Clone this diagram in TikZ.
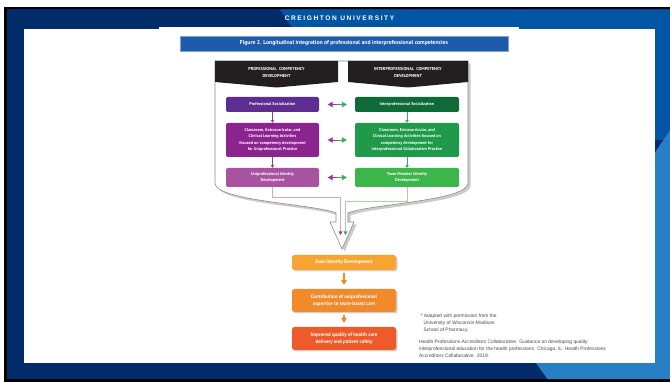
\documentclass[tikz,border=0pt]{standalone}
\usepackage{fontspec}
\setmainfont{Liberation Sans}
\newfontfamily\figfont{PT Sans}
\newfontfamily\unifont[LetterSpace=24]{Liberation Sans}
\usetikzlibrary{arrows.meta,calc,shadows}
\definecolor{navy}{HTML}{022B69}
\definecolor{blueA}{HTML}{0155A4}
\definecolor{lblue}{HTML}{2780C6}
\definecolor{titleblue}{HTML}{1E5BAA}
\definecolor{titleborder}{HTML}{7FA2D6}
\definecolor{hdrblack}{HTML}{231F20}
\definecolor{pA}{HTML}{5E2D91}
\definecolor{pB}{HTML}{8C2490}
\definecolor{pC}{HTML}{A8539F}
\definecolor{gA}{HTML}{0E6B38}
\definecolor{gB}{HTML}{1F9A4A}
\definecolor{gC}{HTML}{3CB54A}
\definecolor{oA}{HTML}{F6A532}
\definecolor{oB}{HTML}{F08A2A}
\definecolor{oC}{HTML}{EE5B2B}
\definecolor{parrow}{HTML}{9B3D98}
\definecolor{garrow}{HTML}{3AAA5A}
\definecolor{pinkline}{HTML}{D8A4D2}
\definecolor{greenline}{HTML}{A2D8A2}
\definecolor{reftext}{HTML}{4A4A4A}
\newcommand\funnelshape[1]{\path[#1] (215,61) -- (215,183) .. controls (215,201) and (315,204) .. (336,213) -- (336,222) -- (330,222) -- (342,249) -- (354,222) -- (348,222) -- (348,213) .. controls (369,204) and (468,201) .. (468,183) -- (468,61) -- cycle;}
\tikzset{
  colbox/.style={rounded corners=2pt, text=white, align=center, inner sep=0pt,
    font=\figfont\bfseries\fontsize{4.2}{6.2}\selectfont},
  lbox/.style={colbox, minimum width=93pt},
  rbox/.style={colbox, minimum width=104pt},
  obox/.style={rounded corners=2.5pt, text=white, align=center, inner sep=0pt,
    minimum width=104pt, font=\figfont\bfseries\fontsize{5}{6.8}\selectfont,
    drop shadow={shadow xshift=1.5pt, shadow yshift=-1.5pt, opacity=0.35}},
  hdr/.style={text=white, align=center, inner sep=0pt,
    font=\figfont\bfseries\fontsize{4.3}{6.6}\selectfont},
  varrow/.style={line width=0.6pt, -{Triangle[width=3.2pt,length=2.6pt]}},
  harrow/.style={line width=0.9pt, -{Triangle[width=5.5pt,length=5pt]}},
  oarrow/.style={oB, line width=1.3pt, -{Triangle[width=6pt,length=5pt]}},
  reftxt/.style={anchor=north west, align=left, inner sep=0pt, text=reftext,
    font=\fontsize{4.9}{7}\selectfont}
}
\begin{document}
\begin{tikzpicture}[x=1pt,y=-1pt]
\useasboundingbox (0,0) rectangle (670,382);
% slide background
\fill[white] (0,0) rectangle (670,382);
\fill[black] (4,7) rectangle (670,382);
\fill[navy] (7,9.5) rectangle (670,379);
\fill[blueA] (280,9.5) -- (670,9.5) -- (670,140) -- (600,140) -- (300,40) -- cycle;
\fill[lblue] (670,130) -- (640,175) -- (536,363) -- (547.5,379) -- (670,379) -- cycle;
\fill[white] (24,29) rectangle (655,363);
\fill[white] (159,27) rectangle (519,29.5);
% header
\node[text=white, inner sep=0pt, font=\unifont\bfseries\fontsize{6.6}{7}\selectfont] (uni) at (339.5,18.5) {CREIGHTON UNIVERSITY};
\node[fill=titleblue, draw=titleborder, line width=0.5pt, minimum width=328pt, minimum height=15pt, inner sep=0pt, text=white,
  font=\figfont\bfseries\fontsize{5.7}{6}\selectfont] (tb) at (344,43.5) {Figure 2. Longitudinal integration of professional and interprofessional competencies};
% funnel
\funnelshape{fill=black!45, opacity=0.45, shift={(2.5,2.5)}}
\funnelshape{fill=white, draw=black!45, line width=0.6pt}
\fill[hdrblack] (215,61) -- (338,61) -- (338,82) -- (276.5,87.5) -- (215,82) -- cycle;
\fill[hdrblack] (348,61) -- (468,61) -- (468,82) -- (408,87.5) -- (348,82) -- cycle;
\node[hdr] (h1) at (276.5,72.5) {PROFESSIONAL\ \ COMPETENCY\\DEVELOPMENT};
\node[hdr] (h2) at (408,72.5) {INTERPROFESSIONAL\ \ COMPETENCY\\DEVELOPMENT};
% left column
\node[lbox, fill=pA, minimum height=15pt] (ps) at (272.5,104.5) {Professional Socialization};
\node[lbox, fill=pB, minimum height=34pt] (cl) at (272.5,140) {Classroom, Extracurricular, and\\Clinical Learning Activities\\focused on competency development\\for Uniprofessional Practice};
\node[lbox, fill=pC, minimum height=19pt] (ui) at (272.5,177.5) {Uniprofessional Identity\\Development};
% right column
\node[rbox, fill=gA, minimum height=15pt] (is) at (407,104.5) {Interprofessional Socialization};
\node[rbox, fill=gB, minimum height=34pt] (cr) at (407,140) {Classroom, Extracurricular, and\\Clinical Learning Activities focused on\\competency development for\\Interprofessional Collaborative Practice};
\node[rbox, fill=gC, minimum height=19pt] (tm) at (407,177.5) {Team Member Identity\\Development};
% vertical arrows
\draw[varrow, parrow] (ps) -- (cl);
\draw[varrow, parrow] (cl) -- (ui);
\draw[varrow, garrow] (is) -- (cr);
\draw[varrow, garrow] (cr) -- (tm);
% double arrows between columns
\foreach \a/\b/\m in {ps/is/m1, cl/cr/m2, ui/tm/m3}{
  \coordinate (\m) at ($(\a.east)!0.5!(\b.west)$);
  \draw[harrow, parrow, shorten >=8.5pt] (\m) -- (\a.east);
  \draw[harrow, garrow, shorten >=8pt] (\m) -- (\b.west);
}
% converging lines into the funnel
\coordinate (pk) at (340.5,197);
\coordinate (pe) at (340.5,235);
\coordinate (gk) at (345.5,201);
\coordinate (ge) at (345.5,235);
\draw[pinkline, line width=0.7pt] (ui.south) |- (pk) -- ($(pe)+(0,-3)$);
\draw[greenline, line width=0.7pt] (tm.south) |- (gk) -- ($(ge)+(0,-3)$);
\fill[parrow] (pe) -- ++(-2,-3.5) -- ++(4,0) -- cycle;
\fill[garrow] (ge) -- ++(-2,-3.5) -- ++(4,0) -- cycle;
% outcome boxes
\node[obox, fill=oA, minimum height=15pt] (dual) at (344,262.5) {Dual Identity Development};
\node[obox, fill=oB, minimum height=23pt] (contrib) at (344,300.5) {Contribution of uniprofessional\\expertise to team-based care};
\node[obox, fill=oC, minimum height=23pt] (impr) at (344,338.5) {Improved quality of health care\\delivery and patient safety};
\draw[oarrow, shorten <=3pt, shorten >=4pt] (dual) -- (contrib);
\draw[oarrow, shorten <=3pt, shorten >=4pt] (contrib) -- (impr);
% notes
\node[reftxt] (note) at (420.5,313.3) {* Adapted with permission from the\\\hspace{3pt}University of Wisconsin-Madison\\\hspace{3pt}School of Pharmacy.};
\node[reftxt] (ref) at (419,340) {Health Professions Accreditors Collaborative. Guidance on developing quality\\interprofessional education for the health professions. Chicago, IL: Health Professions\\Accreditors Collaborative. 2019.};
\end{tikzpicture}
\end{document}
